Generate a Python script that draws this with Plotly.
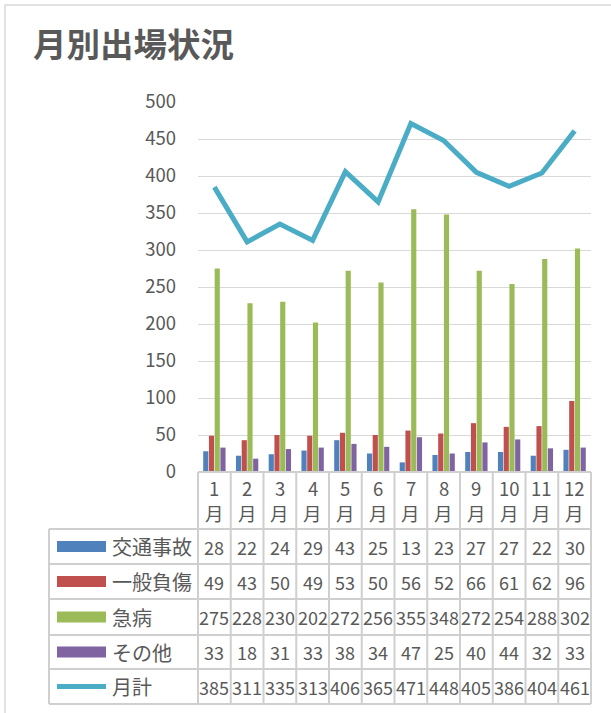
import plotly.graph_objects as go

W, H = 611, 713

month_nums = ["1", "2", "3", "4", "5", "6", "7", "8", "9", "10", "11", "12"]
categories = [m + "月" for m in month_nums]
series_names = ["交通事故", "一般負傷", "急病", "その他"]
traffic = [28, 22, 24, 29, 43, 25, 13, 23, 27, 27, 22, 30]
general = [49, 43, 50, 49, 53, 50, 56, 52, 66, 61, 62, 96]
illness = [275, 228, 230, 202, 272, 256, 355, 348, 272, 254, 288, 302]
other = [33, 18, 31, 33, 38, 34, 47, 25, 40, 44, 32, 33]
total_name = "月計"
total = [385, 311, 335, 313, 406, 365, 471, 448, 405, 386, 404, 461]
y_ticks = [0, 50, 100, 150, 200, 250, 300, 350, 400, 450, 500]
title_text = "月別出場状況"

bar_colors = ["#4F81BD", "#C0504D", "#9BBB59", "#8064A2"]
line_color = "#4BACC6"
grid_color = "#D9D9D9"
text_color = "#595959"
FONT = "Noto Sans CJK JP"

def px(x):
    return x / W

def py(y):
    return 1 - y / H

# plot area in pixels
X0, X1 = 198, 591
Y0, Y1 = 472, 102  # value 0 and 500

fig = go.Figure()
for name, vals, col in zip(series_names, [traffic, general, illness, other], bar_colors):
    fig.add_trace(go.Bar(x=categories, y=vals, name=name, marker=dict(color=col, line=dict(width=0)),
                         showlegend=False, hoverinfo="skip"))
fig.add_trace(go.Scatter(x=categories, y=total, name=total_name, mode="lines",
                         line=dict(color=line_color, width=5), showlegend=False, hoverinfo="skip"))

fig.update_layout(
    width=W, height=H, autosize=False,
    margin=dict(l=0, r=0, t=0, b=0, pad=0, autoexpand=False),
    paper_bgcolor="white", plot_bgcolor="white",
    barmode="group", bargap=0.3, bargroupgap=0.1,
    font=dict(family=FONT, color=text_color),
    xaxis=dict(domain=[px(X0), px(X1)], type="category", range=[-0.5, 11.5],
               showticklabels=False, showgrid=False, zeroline=False, automargin=False,
               showline=False, fixedrange=True),
    yaxis=dict(domain=[py(Y0), py(Y1)], range=[0, 500], tickvals=y_ticks, automargin=False,
               showgrid=True, gridcolor=grid_color, gridwidth=1.3, zeroline=False,
               showline=False, ticks="", ticklabelstandoff=21, fixedrange=True,
               tickfont=dict(size=18.5, color=text_color, family=FONT)),
)

shapes = []
annotations = []

# chart border
shapes.append(dict(type="rect", xref="paper", yref="paper", x0=px(5), x1=px(W + 10),
                   y0=py(H + 10), y1=py(5), line=dict(color=grid_color, width=1.5)))

# title
annotations.append(dict(text="<b>" + title_text + "</b>", xref="paper", yref="paper",
                        x=px(31), y=py(43), xanchor="left", yanchor="middle", showarrow=False,
                        font=dict(size=33.5, color=text_color, family=FONT)))

# data table geometry
n = len(categories)
colw = (X1 - X0) / n
col_edges = [X0 + colw * i for i in range(n + 1)]
row_edges = [529, 564, 599, 635, 669, 704]
LEFT = 49
tcol = "#CFCFCF"

# horizontal lines
shapes.append(dict(type="line", xref="paper", yref="paper", x0=px(X0), x1=px(X1),
                   y0=py(Y0), y1=py(Y0), line=dict(color=tcol, width=2)))
for ye in row_edges:
    shapes.append(dict(type="line", xref="paper", yref="paper", x0=px(LEFT), x1=px(X1),
                       y0=py(ye), y1=py(ye), line=dict(color=tcol, width=2)))
# vertical lines
for xe in col_edges:
    shapes.append(dict(type="line", xref="paper", yref="paper", x0=px(xe), x1=px(xe),
                       y0=py(Y0), y1=py(row_edges[-1]), line=dict(color=tcol, width=2)))
shapes.append(dict(type="line", xref="paper", yref="paper", x0=px(LEFT), x1=px(LEFT),
                   y0=py(row_edges[0]), y1=py(row_edges[-1]), line=dict(color=tcol, width=2)))

# header months
for i, m in enumerate(month_nums):
    cx = (col_edges[i] + col_edges[i + 1]) / 2
    annotations.append(dict(text=m, xref="paper", yref="paper", x=px(cx), y=py(488),
                            xanchor="center", yanchor="middle", showarrow=False,
                            font=dict(size=18.5, color=text_color, family=FONT)))
    annotations.append(dict(text="月", xref="paper", yref="paper", x=px(cx), y=py(513),
                            xanchor="center", yanchor="middle", showarrow=False,
                            font=dict(size=18.5, color=text_color, family=FONT)))

# rows
rows = list(zip(series_names, [traffic, general, illness, other], bar_colors))
rows.append((total_name, total, line_color))
for r, (name, vals, col) in enumerate(rows):
    cy = (row_edges[r] + row_edges[r + 1]) / 2
    if r < 4:
        shapes.append(dict(type="rect", xref="paper", yref="paper", x0=px(57), x1=px(106),
                           y0=py(cy + 5.5), y1=py(cy - 5.5), fillcolor=col, line=dict(width=0)))
    else:
        shapes.append(dict(type="line", xref="paper", yref="paper", x0=px(57), x1=px(106),
                           y0=py(cy), y1=py(cy), line=dict(color=col, width=5)))
    annotations.append(dict(text=name, xref="paper", yref="paper", x=px(110), y=py(cy),
                            xanchor="left", yanchor="middle", showarrow=False,
                            font=dict(size=20, color=text_color, family=FONT)))
    for i, v in enumerate(vals):
        cx = (col_edges[i] + col_edges[i + 1]) / 2
        annotations.append(dict(text=str(v), xref="paper", yref="paper", x=px(cx), y=py(cy),
                                xanchor="center", yanchor="middle", showarrow=False,
                                font=dict(size=18, color=text_color, family=FONT)))

fig.update_layout(shapes=shapes, annotations=annotations)
fig.write_html("out.html", config={"displayModeBar": False, "responsive": False},
               post_script="document.body.style.margin='0';document.body.style.overflow='hidden';")
